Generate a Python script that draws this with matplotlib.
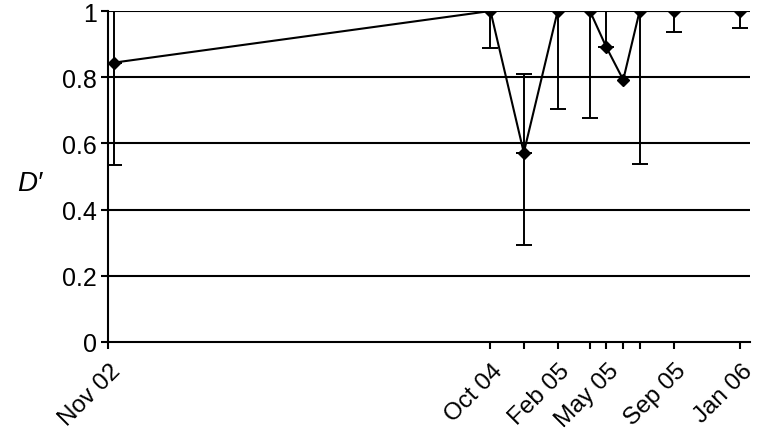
import matplotlib
matplotlib.use("Agg")
import matplotlib.pyplot as plt
import matplotlib.transforms as mtransforms
import numpy as np
from datetime import datetime

plt.rcParams['font.family'] = ['Liberation Sans', 'DejaVu Sans']

# data
dates = ["2002-11-12", "2004-10-01", "2004-12-01", "2005-02-01", "2005-04-01",
         "2005-05-01", "2005-06-01", "2005-07-01", "2005-09-01", "2006-01-01"]
d_prime = [0.844, 1.0, 0.572, 1.0, 1.0, 0.891, 0.792, 1.0, 1.0, 1.0]
lower = [0.535, 0.889, 0.292, 0.703, 0.677, 0.891, 0.792, 0.537, 0.937, 0.948]
upper = [1.0, 1.0, 0.81, 1.0, 1.0, 1.0, 0.792, 1.0, 1.0, 1.0]

tick_dates = ["2002-11-01", "2004-10-01", "2004-12-01", "2005-02-01", "2005-04-01",
              "2005-05-01", "2005-06-01", "2005-07-01", "2005-09-01", "2006-01-01"]
tick_labels = ["Nov 02", "Oct 04", "", "Feb 05", "", "May 05", "", "", "Sep 05", "Jan 06"]
y_ticks = [0, 0.2, 0.4, 0.6, 0.8, 1.0]
y_tick_labels = ["0", "0.2", "0.4", "0.6", "0.8", "1"]

x = np.array([datetime.strptime(d, "%Y-%m-%d") for d in dates])
xt = [datetime.strptime(d, "%Y-%m-%d") for d in tick_dates]
y = np.array(d_prime)
lo = np.array(lower)
up = np.array(upper)

fig = plt.figure(figsize=(7.59, 4.39), dpi=100)
ax = fig.add_axes([108/759, 1 - 343/439, (750 - 108)/759, (343 - 12)/439])

for yt in y_ticks[1:]:
    ax.axhline(yt, color='black', lw=1.5, zorder=1)

# lower error parts
m = lo < y
ax.errorbar(x[m], y[m], yerr=[y[m] - lo[m], np.zeros(m.sum())], fmt='none',
            ecolor='black', elinewidth=1.4, capsize=5.5, capthick=1.4, zorder=2)
# upper error parts
m2 = up > y
ax.errorbar(x[m2], y[m2], yerr=[np.zeros(m2.sum()), up[m2] - y[m2]], fmt='none',
            ecolor='black', elinewidth=1.4, capsize=5.5, capthick=1.4, zorder=2)
ax.plot(x, y, color='black', lw=1.5, marker='D', markersize=6.5, zorder=3)

ax.set_xlim(datetime(2002, 11, 1), datetime(2006, 1, 19))
ax.set_ylim(0, 1)
ax.set_xticks(xt)
ax.set_xticklabels(tick_labels, rotation=45, ha='right', va='center',
                   rotation_mode='anchor', fontsize=17.5)
ax.set_yticks(y_ticks)
ax.set_yticklabels(y_tick_labels, fontsize=18)
ax.tick_params(axis='both', direction='out', length=5, width=1.5, color='black')
ax.tick_params(axis='y', pad=3)
ax.tick_params(axis='x', pad=13)
offset = mtransforms.ScaledTranslation(9/100, 0, fig.dpi_scale_trans)
for lab in ax.get_xticklabels():
    lab.set_transform(lab.get_transform() + offset)

for s in ['top', 'right']:
    ax.spines[s].set_visible(False)
for s in ['left', 'bottom']:
    ax.spines[s].set_linewidth(1.5)

fig.text(30/759, 1 - 184/439, "D′", fontsize=20, style='italic', ha='center', va='center')

fig.savefig("out.png", dpi=100)
